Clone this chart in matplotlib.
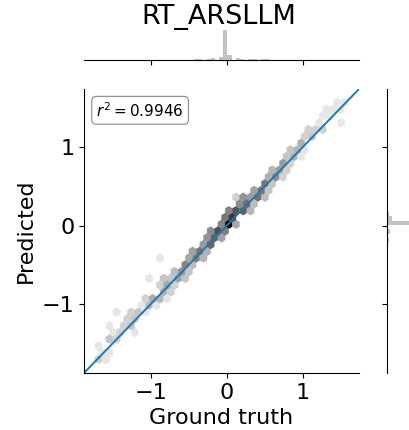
import numpy as np
import matplotlib
matplotlib.use("Agg")
import matplotlib.pyplot as plt
from matplotlib.colors import LinearSegmentedColormap, LogNorm

# hex cells: ground truth, predicted, count
ground_truth = [
    -1.70, -1.68, -1.60, -1.62, -1.55, -1.54, -1.54, -1.52, -1.46, -1.46,
    -1.38, -1.42, -1.38, -1.30, -1.30, -1.22, -1.22, -1.25, -1.14, -1.14,
    -1.06, -1.06, -1.08, -0.98, -1.02, -0.98, -0.90, -0.90, -0.90, -0.82,
    -0.87, -0.82, -0.80, -0.74, -0.74, -0.74, -0.66, -0.66, -0.66, -0.58,
    -0.58, -0.58, -0.50, -0.50, -0.50, -0.42, -0.42, -0.42, -0.34, -0.34,
    -0.34, -0.26, -0.26, -0.26, -0.18, -0.18, -0.18, -0.10, -0.10, -0.10,
    0.00, 0.00, 0.00, 0.06, 0.06, 0.06, 0.14, 0.14, 0.14, 0.22,
    0.22, 0.22, 0.30, 0.30, 0.30, 0.38, 0.38, 0.38, 0.13, 0.46,
    0.46, 0.46, 0.54, 0.54, 0.54, 0.62, 0.62, 0.62, 0.70, 0.70,
    0.70, 0.78, 0.78, 0.78, 0.86, 0.86, 0.86, 0.94, 0.94, 0.94,
    1.02, 1.02, 1.02, 1.10, 1.10, 1.18, 1.18, 1.26, 1.26, 1.34,
    1.34, 1.42, 1.42, 1.50, 1.50, 1.58,
]
predicted = [
    -1.70, -1.55, -1.66, -1.60, -1.45, -1.50, -1.33, -1.62, -1.44, -1.35,
    -1.36, -1.12, -1.25, -1.28, -1.20, -1.20, -1.12, -1.33, -1.12, -1.02,
    -1.04, -0.95, -1.15, -0.97, -0.72, -0.88, -0.89, -0.80, -0.98, -0.81,
    -0.44, -0.72, -0.90, -0.73, -0.64, -0.82, -0.65, -0.56, -0.74, -0.57,
    -0.48, -0.66, -0.49, -0.40, -0.58, -0.41, -0.32, -0.50, -0.33, -0.24,
    -0.42, -0.25, -0.16, -0.34, -0.17, -0.08, -0.26, -0.09, 0.00, -0.18,
    0.02, 0.10, -0.08, 0.07, 0.16, -0.02, 0.15, 0.24, 0.06, 0.23,
    0.32, 0.14, 0.31, 0.40, 0.22, 0.39, 0.48, 0.30, 0.39, 0.47,
    0.56, 0.38, 0.55, 0.64, 0.46, 0.63, 0.72, 0.54, 0.71, 0.80,
    0.62, 0.79, 0.88, 0.70, 0.87, 0.96, 0.78, 0.95, 1.04, 0.86,
    1.03, 1.12, 0.94, 1.11, 1.20, 1.19, 1.28, 1.27, 1.36, 1.35,
    1.45, 1.44, 1.55, 1.52, 1.27, 1.60,
]
counts = [
    2, 1, 1, 1, 1, 2, 1, 1, 2, 1,
    2, 1, 2, 3, 2, 3, 2, 1, 3, 1,
    4, 2, 1, 5, 1, 2, 5, 2, 1, 6,
    1, 3, 1, 8, 3, 2, 10, 4, 2, 15,
    6, 3, 20, 8, 3, 30, 10, 4, 40, 12,
    5, 60, 15, 6, 80, 20, 8, 150, 25, 10,
    2000, 40, 30, 300, 25, 10, 120, 20, 8, 80,
    15, 6, 60, 12, 5, 50, 10, 4, 2, 40,
    8, 4, 30, 6, 3, 20, 5, 3, 12, 4,
    2, 8, 3, 2, 6, 3, 2, 5, 2, 1,
    4, 2, 1, 3, 2, 2, 1, 2, 1, 1,
    1, 1, 1, 1, 1, 1,
]
title = "RT_ARSLLM"
r2_value = 0.9946
lims = (-1.88, 1.74)

W, H = 410, 430
fig = plt.figure(figsize=(W / 100, H / 100), dpi=100)

ax = fig.add_axes([84 / W, 57 / H, 275 / W, 284 / H])
ax_top = fig.add_axes([84 / W, 370 / H, 275 / W, 31 / H], sharex=ax)
ax_right = fig.add_axes([387 / W, 57 / H, 31 / W, 284 / H], sharey=ax)

cmap = LinearSegmentedColormap.from_list("greys_hex", ["#e6e6e6", "#000000"])
ax.hexbin(ground_truth, predicted, C=counts, reduce_C_function=np.sum,
          gridsize=38, extent=(*lims, *lims), cmap=cmap, norm=LogNorm(1, 2000),
          mincnt=0, linewidths=0.2, edgecolors="face")
ax.plot(lims, lims, color="#1f77b4", lw=1.4)
ax.set_xlim(lims)
ax.set_ylim(lims)
ax.set_xticks([-1, 0, 1])
ax.set_yticks([-1, 0, 1])
ax.set_xlabel("Ground truth", fontsize=16)
ax.set_ylabel("Predicted", fontsize=16)
ax.tick_params(labelsize=16, length=3.5)
for side in ("top", "right"):
    ax.spines[side].set_visible(False)
ax.text(0.045, 0.958, rf"$r^2 = {r2_value}$", transform=ax.transAxes,
        fontsize=11, va="top", ha="left",
        bbox=dict(boxstyle="round,pad=0.3", fc="white", ec="#888888", lw=0.8))

# marginal histograms
bins = np.linspace(-1.75, 1.6, 62)
ax_top.hist(ground_truth, bins=bins, weights=counts, color="#c2c2c2")
ax_right.hist(predicted, bins=bins, weights=counts, color="#c2c2c2",
              orientation="horizontal")
for a in (ax_top, ax_right):
    for side in ("top", "right", "left", "bottom"):
        a.spines[side].set_visible(False)
    a.tick_params(labelbottom=False, labelleft=False, length=3.5)
ax_top.spines["bottom"].set_visible(True)
ax_top.tick_params(left=False)
ax_right.spines["left"].set_visible(True)
ax_right.tick_params(bottom=False)

fig.text(218.5 / W, 1 - 4 / H, title, ha="center", va="top", fontsize=19.5)

fig.savefig("out.png", dpi=100)
